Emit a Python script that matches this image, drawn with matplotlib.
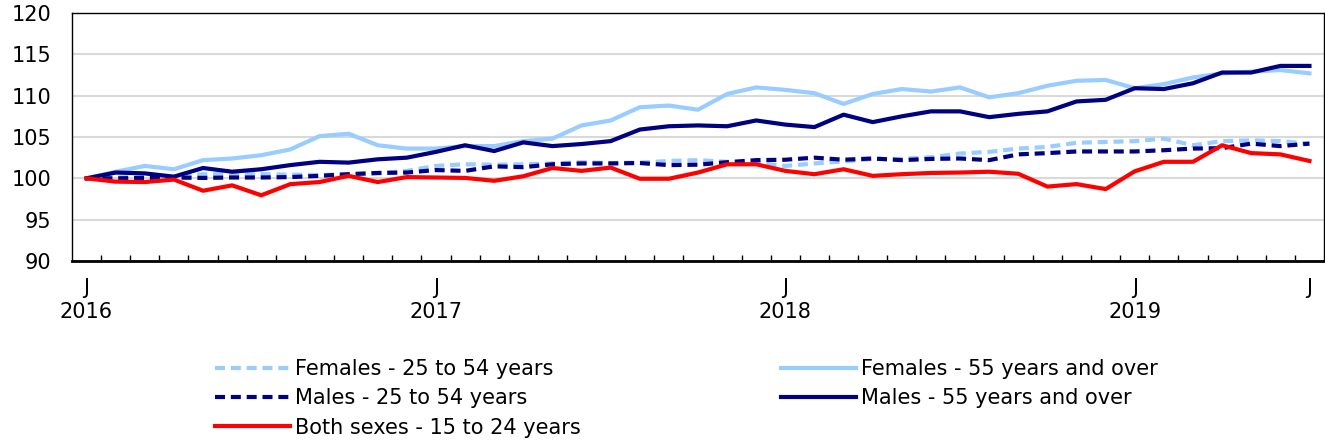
import numpy as np
import matplotlib
matplotlib.use("Agg")
import matplotlib.pyplot as plt

# monthly index, Jan 2016 = 100, Jan 2016 .. Jul 2019
fem_25_54 = [100.0, 100.1, 100.15, 100.2, 100.5, 100.5, 100.5, 100.45, 100.4, 100.5, 100.6, 100.9,
             101.5, 101.7, 101.65, 101.7, 101.8, 101.95, 101.85, 101.9, 102.1, 102.2, 102.0, 101.85,
             101.5, 101.8, 102.05, 102.35, 102.35, 102.55, 103.0, 103.2, 103.6, 103.8, 104.3, 104.4,
             104.5, 104.8, 104.0, 104.5, 104.6, 104.5, 104.2]
fem_55 = [100.0, 100.8, 101.5, 101.1, 102.2, 102.4, 102.8, 103.5, 105.1, 105.4, 104.0, 103.6,
          103.6, 103.9, 103.9, 104.5, 104.8, 106.4, 107.0, 108.6, 108.8, 108.3, 110.2, 111.0,
          110.7, 110.3, 109.0, 110.2, 110.8, 110.5, 111.0, 109.8, 110.3, 111.2, 111.8, 111.9,
          110.9, 111.4, 112.2, 112.7, 112.9, 113.1, 112.7]
male_25_54 = [100.0, 100.0, 100.05, 100.1, 100.05, 100.1, 100.1, 100.15, 100.3, 100.5, 100.65, 100.7,
              101.0, 100.9, 101.45, 101.35, 101.7, 101.8, 101.8, 101.85, 101.6, 101.65, 101.95, 102.2,
              102.25, 102.5, 102.25, 102.4, 102.2, 102.35, 102.4, 102.2, 102.9, 103.05, 103.25, 103.25,
              103.25, 103.4, 103.6, 103.65, 104.2, 103.9, 104.2]
male_55 = [100.0, 100.7, 100.6, 100.2, 101.25, 100.8, 101.1, 101.6, 102.0, 101.9, 102.3, 102.5,
           103.2, 104.0, 103.3, 104.35, 103.9, 104.15, 104.5, 105.9, 106.3, 106.4, 106.3, 107.0,
           106.5, 106.2, 107.7, 106.8, 107.5, 108.1, 108.1, 107.4, 107.8, 108.1, 109.3, 109.5,
           110.9, 110.8, 111.5, 112.8, 112.8, 113.6, 113.6]
both_15_24 = [100.0, 99.6, 99.55, 99.85, 98.5, 99.15, 97.95, 99.3, 99.55, 100.3, 99.55, 100.15,
              100.1, 100.05, 99.7, 100.25, 101.25, 100.9, 101.3, 99.95, 99.95, 100.7, 101.7, 101.7,
              100.9, 100.5, 101.1, 100.3, 100.5, 100.65, 100.7, 100.8, 100.55, 99.0, 99.3, 98.7,
              100.85, 102.0, 102.0, 104.0, 103.05, 102.9, 102.1]

tick_pos = [0, 12, 24, 36, 42]
tick_lab = ["J\n2016", "J\n2017", "J\n2018", "J\n2019", "J"]

light = "#99CCFF"
navy = "#000080"
red = "#FF0000"

plt.rcParams['font.family'] = ['DejaVu Sans']
fig = plt.figure(figsize=(13.25, 4.42), dpi=100)
ax = fig.add_axes([72/1325, 1-261/442, 1-72/1325-1/1325, (261-13)/442])

x = np.arange(len(fem_55))
dash = (2.4, 1.4)
l1, = ax.plot(x, fem_25_54, color=light, lw=3, dashes=dash, label="Females - 25 to 54 years")
l2, = ax.plot(x, fem_55, color=light, lw=3, label="Females - 55 years and over")
l3, = ax.plot(x, male_25_54, color=navy, lw=3, dashes=dash, label="Males - 25 to 54 years")
l4, = ax.plot(x, male_55, color=navy, lw=3, label="Males - 55 years and over")
l5, = ax.plot(x, both_15_24, color=red, lw=3, label="Both sexes - 15 to 24 years")

ax.set_xlim(-0.5, len(x) - 0.5)
ax.set_ylim(90, 120)
ax.set_yticks(range(90, 121, 5))
ax.yaxis.grid(True, color="#D9D9D9", lw=1.5)
ax.set_axisbelow(True)
ax.tick_params(axis="y", length=0, pad=15, labelsize=15)

ax.set_xticks(tick_pos)
ax.set_xticklabels(tick_lab, fontsize=15, linespacing=1.3)
ax.set_xticks(np.arange(0.5, len(x) - 1, 1), minor=True)
ax.tick_params(axis="x", which="major", length=0, pad=12)
ax.tick_params(axis="x", which="minor", direction="in", length=4.5, width=1, color="black")

for s in ["left", "right", "top"]:
    ax.spines[s].set_linewidth(1)
ax.spines["bottom"].set_linewidth(2)

fig.legend(handles=[l1, l3, l5, l2, l4], loc="upper left", bbox_to_anchor=(215/1325, 1-359/442),
           ncol=2, frameon=False, fontsize=15, handlelength=3.6, handletextpad=0.24,
           columnspacing=9.6, labelspacing=0.45, borderpad=0, borderaxespad=0)

fig.savefig("out.png", dpi=100)
